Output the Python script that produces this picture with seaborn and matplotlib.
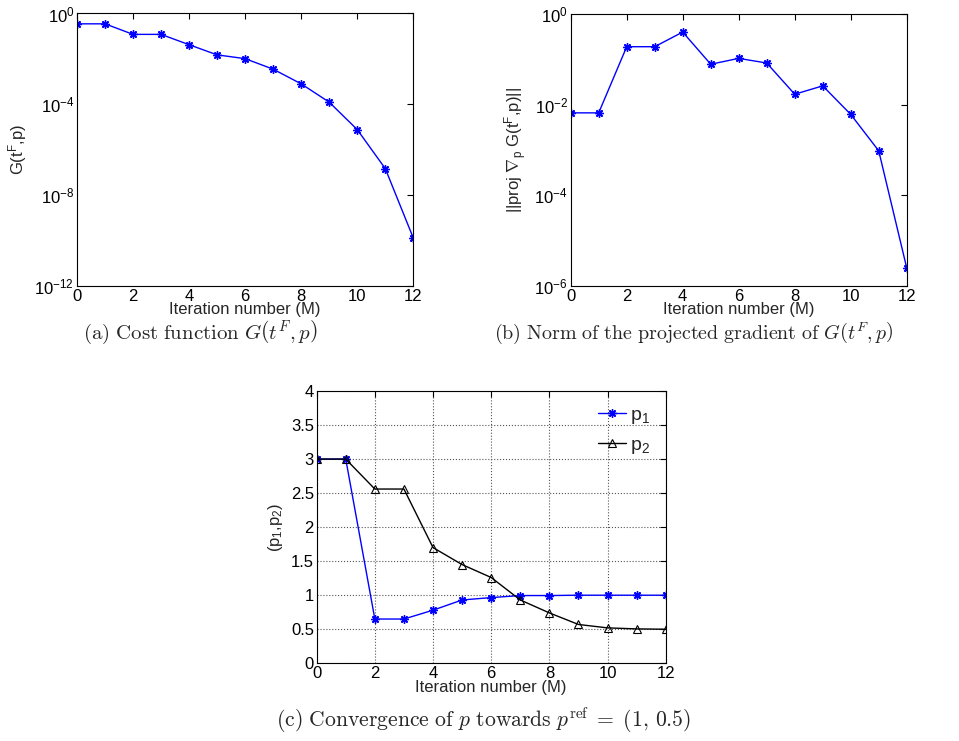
import numpy as np
import pandas as pd
import matplotlib
matplotlib.use("Agg")
import matplotlib.pyplot as plt
import seaborn as sns
from matplotlib.ticker import FixedLocator, FuncFormatter, NullLocator

# ---- data ----
iterations = list(range(13))
cost_G = [0.35, 0.35, 0.12, 0.12, 0.042, 0.015, 0.0102, 0.0035, 7.9e-4,
          1.23e-4, 7.6e-6, 1.45e-7, 1.26e-10]
grad_norm = [6.6e-3, 6.6e-3, 0.19, 0.19, 0.40, 0.078, 0.105, 0.083, 0.017,
             0.026, 6.1e-3, 9.6e-4, 2.5e-6]
p1 = [3.0, 3.0, 0.65, 0.65, 0.78, 0.93, 0.965, 0.995, 0.995, 1.0, 1.0, 1.0, 1.0]
p2 = [3.0, 3.0, 2.56, 2.56, 1.70, 1.45, 1.26, 0.93, 0.74, 0.57, 0.52, 0.505, 0.50]

xticks = [0, 2, 4, 6, 8, 10, 12]
yticks_a = [1e-12, 1e-8, 1e-4, 1e0]
yticks_b = [1e-6, 1e-4, 1e-2, 1e0]
yticks_c = [0, 0.5, 1, 1.5, 2, 2.5, 3, 3.5, 4]
xlabel = "Iteration number (M)"
caption_a = r"$\mathrm{(a)\ Cost\ function}\ G\left(t^F, p\right)$"
caption_b = r"$\mathrm{(b)\ Norm\ of\ the\ projected\ gradient\ of}\ G\left(t^F, p\right)$"
caption_c = r"$\mathrm{(c)\ Convergence\ of}\ p\ \mathrm{towards}\ p^{\mathrm{ref}}\;=\;(1,\,0.5)$"

sns.set_theme(style="white")
plt.rcParams["font.family"] = ["Liberation Sans", "DejaVu Sans"]
plt.rcParams["mathtext.fontset"] = "custom"
plt.rcParams["mathtext.rm"] = "Liberation Sans"
plt.rcParams["mathtext.it"] = "Liberation Sans:italic"
plt.rcParams["mathtext.bf"] = "Liberation Sans:bold"
plt.rcParams["axes.edgecolor"] = "black"
plt.rcParams["axes.linewidth"] = 0.8
plt.rcParams["xtick.direction"] = "in"
plt.rcParams["ytick.direction"] = "in"
plt.rcParams["xtick.color"] = "black"
plt.rcParams["ytick.color"] = "black"

FS = 12
CAP = 15
ASTER = (8, 2, 0)
fig = plt.figure(figsize=(9.59, 7.41), dpi=100)
ax_a = fig.add_axes([0.0803, 0.6144, 0.3507, 0.3674])
ax_b = fig.add_axes([0.5951, 0.6140, 0.3504, 0.3671])
ax_c = fig.add_axes([0.3302, 0.1049, 0.3640, 0.3674])

def style_axes(ax):
    ax.tick_params(axis="both", which="both", direction="in", top=True, right=True,
                   length=4, width=0.8, labelsize=FS, pad=2, colors="black")
    for s in ax.spines.values():
        s.set_visible(True)
        s.set_color("black")
        s.set_linewidth(0.8)

def pow_fmt(v, pos):
    e = int(round(np.log10(v)))
    return r"$10^{%d}$" % e

df_a = pd.DataFrame({"it": iterations, "G": cost_G})
sns.lineplot(data=df_a, x="it", y="G", ax=ax_a, color="blue", lw=1.0,
             marker=ASTER, markersize=6, markeredgecolor="blue", markeredgewidth=1.0)
ax_a.set_yscale("log")
ax_a.set_ylim(1e-12, 1)
ax_a.yaxis.set_major_locator(FixedLocator(yticks_a))
ax_a.yaxis.set_minor_locator(NullLocator())
ax_a.yaxis.set_major_formatter(FuncFormatter(pow_fmt))
ax_a.set_ylabel(r"G(t$^{\mathrm{F}}$,p)", fontsize=FS, labelpad=4)

df_b = pd.DataFrame({"it": iterations, "N": grad_norm})
sns.lineplot(data=df_b, x="it", y="N", ax=ax_b, color="blue", lw=1.0,
             marker=ASTER, markersize=6, markeredgecolor="blue", markeredgewidth=1.0)
ax_b.set_yscale("log")
ax_b.set_ylim(1e-6, 1)
ax_b.yaxis.set_major_locator(FixedLocator(yticks_b))
ax_b.yaxis.set_minor_locator(NullLocator())
ax_b.yaxis.set_major_formatter(FuncFormatter(pow_fmt))
ax_b.set_ylabel(r"||proj $\nabla_{\mathrm{p}}$ G(t$^{\mathrm{F}}$,p)||", fontsize=FS, labelpad=4)

df_c = pd.DataFrame({"it": iterations, "p1": p1, "p2": p2})
sns.lineplot(data=df_c, x="it", y="p1", ax=ax_c, color="blue", lw=1.0,
             marker=ASTER, markersize=6, markeredgecolor="blue", markeredgewidth=1.0,
             label=r"p$_1$")
sns.lineplot(data=df_c, x="it", y="p2", ax=ax_c, color="black", lw=1.0,
             marker="^", markersize=6, markerfacecolor="none", markeredgecolor="black",
             markeredgewidth=0.8, label=r"p$_2$")
ax_c.set_ylim(0, 4)
ax_c.yaxis.set_major_locator(FixedLocator(yticks_c))
ax_c.yaxis.set_major_formatter(FuncFormatter(lambda v, p: ("%g" % v)))
ax_c.set_ylabel(r"(p$_1$,p$_2$)", fontsize=FS, labelpad=4)
ax_c.grid(True, linestyle=":", color="#555555", linewidth=0.8)
leg = ax_c.legend(loc="upper right", frameon=False, fontsize=FS + 2, handlelength=1.45,
                  borderaxespad=0.4, labelspacing=0.5, handletextpad=0.2)

for ax in (ax_a, ax_b, ax_c):
    ax.set_xlim(0, 12)
    ax.xaxis.set_major_locator(FixedLocator(xticks))
    ax.set_xlabel(xlabel, fontsize=FS, labelpad=-1)
    style_axes(ax)

fig.text(0.2086, 0.551, caption_a, fontsize=CAP, ha="center", va="center", math_fontfamily="cm")
fig.text(0.7237, 0.551, caption_b, fontsize=CAP - 0.6, ha="center", va="center", math_fontfamily="cm")
fig.text(0.504, 0.028, caption_c, fontsize=CAP + 0.6, ha="center", va="center", math_fontfamily="cm")

fig.savefig("out.png", dpi=100)
